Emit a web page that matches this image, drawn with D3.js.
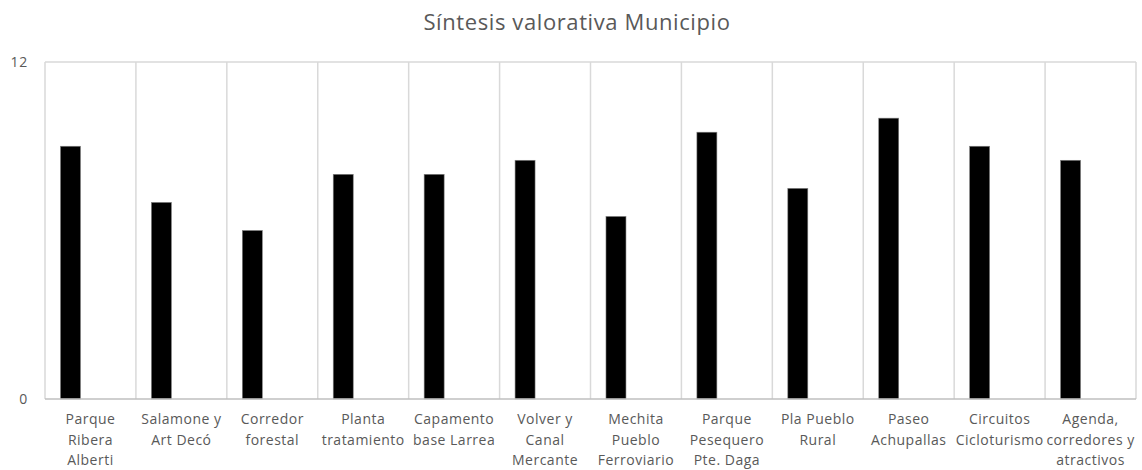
<!DOCTYPE html>
<html>
<head>
<meta charset="utf-8">
<script src="https://cdn.jsdelivr.net/npm/d3@7"></script>
<style>
  body { margin: 0; background: #fff; }
  text { font-family: "Open Sans", sans-serif; fill: #595959; }
</style>
</head>
<body>
<div id="chart"></div>
<script>
// setting up constants
const FRAME_WIDTH = 1142;
const FRAME_HEIGHT = 470;
const MARGINS = {left: 45, right: 6, top: 62, bottom: 71};

const VIS_WIDTH = FRAME_WIDTH - MARGINS.left - MARGINS.right;
const VIS_HEIGHT = FRAME_HEIGHT - MARGINS.top - MARGINS.bottom;

// data
const categories = [
  "Parque Ribera Alberti", "Salamone y Art Decó", "Corredor forestal",
  "Planta tratamiento", "Capamento base Larrea", "Volver y Canal Mercante",
  "Mechita Pueblo Ferroviario", "Parque Pesequero Pte. Daga", "Pla Pueblo Rural",
  "Paseo Achupallas", "Circuitos Cicloturismo", "Agenda, corredores y atractivos"
];
// how each category label wraps under the axis
const labelLines = [
  ["Parque", "Ribera", "Alberti"],
  ["Salamone y", "Art Decó"],
  ["Corredor", "forestal"],
  ["Planta", "tratamiento"],
  ["Capamento", "base Larrea"],
  ["Volver y", "Canal", "Mercante"],
  ["Mechita", "Pueblo", "Ferroviario"],
  ["Parque", "Pesequero", "Pte. Daga"],
  ["Pla Pueblo", "Rural"],
  ["Paseo", "Achupallas"],
  ["Circuitos", "Cicloturismo"],
  ["Agenda,", "corredores y", "atractivos"]
];
const values = [9, 7, 6, 8, 8, 8.5, 6.5, 9.5, 7.5, 10, 9, 8.5];
// the bar sits in the first of three series slots
const seriesSlots = ["valor", "s2", "s3"];
const yTicks = [0, 12];
const title = "Síntesis valorativa Municipio";

const svg = d3.select("#chart")
  .append("svg")
    .attr("width", FRAME_WIDTH)
    .attr("height", FRAME_HEIGHT);

const FRAME = svg.append("g")
  .attr("transform", "translate(" + MARGINS.left + "," + MARGINS.top + ")");

// scales
const xScale = d3.scaleBand()
  .domain(categories)
  .range([0, VIS_WIDTH])
  .padding(0);

const xInner = d3.scaleBand()
  .domain(seriesSlots)
  .range([0, xScale.bandwidth()])
  .paddingInner(0)
  .paddingOuter(0.775);

const yScale = d3.scaleLinear()
  .domain([0, 12])
  .range([VIS_HEIGHT, 0]);

// vertical gridlines between categories (plus right edge)
const edges = categories.map(c => xScale(c)).concat([VIS_WIDTH]);
FRAME.append("g")
  .selectAll("line")
  .data(edges)
  .enter()
  .append("line")
    .attr("x1", d => d).attr("x2", d => d)
    .attr("y1", 0).attr("y2", VIS_HEIGHT)
    .attr("stroke", "#d9d9d9")
    .attr("stroke-width", 1.5);

// horizontal gridline at the top tick
FRAME.append("g")
  .selectAll("line")
  .data(yTicks.filter(t => t > 0))
  .enter()
  .append("line")
    .attr("x1", 0).attr("x2", VIS_WIDTH)
    .attr("y1", d => yScale(d)).attr("y2", d => yScale(d))
    .attr("stroke", "#d9d9d9")
    .attr("stroke-width", 1.5);

// bars
FRAME.append("g")
  .selectAll("rect")
  .data(values)
  .enter()
  .append("rect")
    .attr("x", (d, i) => xScale(categories[i]) + xInner("valor"))
    .attr("y", d => yScale(d))
    .attr("width", xInner.bandwidth())
    .attr("height", d => VIS_HEIGHT - yScale(d))
    .attr("fill", "#000")
    .attr("stroke", "#7f7f7f")
    .attr("stroke-width", 0.6);

// x axis baseline
FRAME.append("line")
  .attr("x1", 0).attr("x2", VIS_WIDTH)
  .attr("y1", VIS_HEIGHT).attr("y2", VIS_HEIGHT)
  .attr("stroke", "#bfbfbf")
  .attr("stroke-width", 1.5);

// y axis labels
const yAxis = FRAME.append("g")
  .attr("transform", "translate(-17,0)")
  .call(d3.axisLeft(yScale).tickValues(yTicks).tickSize(0).tickPadding(0));
yAxis.select(".domain").remove();
yAxis.selectAll("text")
  .style("font-size", "14px")
  .style("letter-spacing", "0.8px")
  .style("fill", "#595959")
  .style("font-family", "'Open Sans', sans-serif");

// category labels
const xLabels = FRAME.append("g")
  .selectAll("text")
  .data(labelLines)
  .enter()
  .append("text")
    .attr("text-anchor", "middle")
    .attr("x", (d, i) => xScale(categories[i]) + xScale.bandwidth() / 2)
    .attr("y", VIS_HEIGHT + 25)
    .style("font-size", "14px")
    .style("letter-spacing", "0.5px");
xLabels.selectAll("tspan")
  .data(d => d)
  .enter()
  .append("tspan")
    .attr("x", function () { return this.parentNode.getAttribute("x"); })
    .attr("dy", (d, i) => i === 0 ? 0 : 20.5)
    .text(d => d);

// title
svg.append("text")
  .attr("x", 577)
  .attr("y", 30)
  .attr("text-anchor", "middle")
  .style("font-size", "22px")
  .style("letter-spacing", "0.6px")
  .text(title);
</script>
</body>
</html>
